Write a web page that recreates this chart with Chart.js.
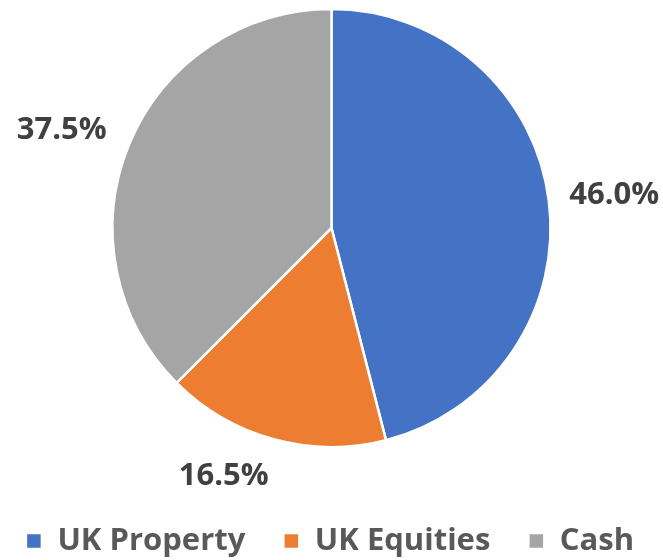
<!DOCTYPE html>
<html>
<head>
<meta charset="utf-8">
<script src="https://cdn.jsdelivr.net/npm/chart.js@4/dist/chart.umd.min.js"></script>
<style>
  html, body { margin: 0; padding: 0; background: #ffffff; }
  #wrap { width: 663px; height: 560px; position: relative; }
</style>
</head>
<body>
<div id="wrap"><canvas id="c" width="663" height="560"></canvas></div>
<script>
const categories = ['UK Property', 'UK Equities', 'Cash'];
const shares = [46.0, 16.5, 37.5];
const sliceColors = ['#4472C4', '#ED7D31', '#A5A5A5'];

// label placement style: extra distance beyond the rim and small nudges (px)
const labelGap = [66, 38, 73];
const labelNudge = [[0, 3], [-40, 0], [0, 14]];

const FONT = "'Open Sans', 'DejaVu Sans', sans-serif";

const outsideLabels = {
  id: 'outsideLabels',
  afterDatasetsDraw(chart) {
    const ctx = chart.ctx;
    const meta = chart.getDatasetMeta(0);
    ctx.save();
    ctx.font = 'bold 31px ' + FONT;
    ctx.fillStyle = '#404040';
    ctx.textAlign = 'center';
    ctx.textBaseline = 'middle';
    meta.data.forEach((arc, i) => {
      const p = arc.getProps(['x', 'y', 'startAngle', 'endAngle', 'outerRadius'], true);
      const mid = (p.startAngle + p.endAngle) / 2;
      const d = p.outerRadius + labelGap[i];
      const x = p.x + Math.cos(mid) * d + labelNudge[i][0];
      const y = p.y + Math.sin(mid) * d + labelNudge[i][1];
      ctx.fillText(shares[i].toFixed(1) + '%', x, y);
    });
    ctx.restore();
  }
};

new Chart(document.getElementById('c'), {
  type: 'pie',
  data: {
    labels: categories,
    datasets: [{
      data: shares,
      backgroundColor: sliceColors,
      borderColor: '#ffffff',
      borderWidth: 2.5
    }]
  },
  options: {
    responsive: false,
    animation: false,
    radius: 219,
    layout: { padding: { top: 0, bottom: -6.5, left: -20, right: -17 } },
    plugins: {
      legend: {
        position: 'bottom',
        title: {
          display: true,
          text: ' ',
          font: { size: 10, lineHeight: 1.2 },
          padding: { top: 19.5, bottom: 0 }
        },
        labels: {
          boxWidth: 16,
          boxHeight: 16,
          padding: 38,
          color: '#595959',
          font: { family: FONT, size: 31, weight: 'bold' }
        }
      },
      tooltip: { enabled: false }
    }
  },
  plugins: [outsideLabels]
});
</script>
</body>
</html>
